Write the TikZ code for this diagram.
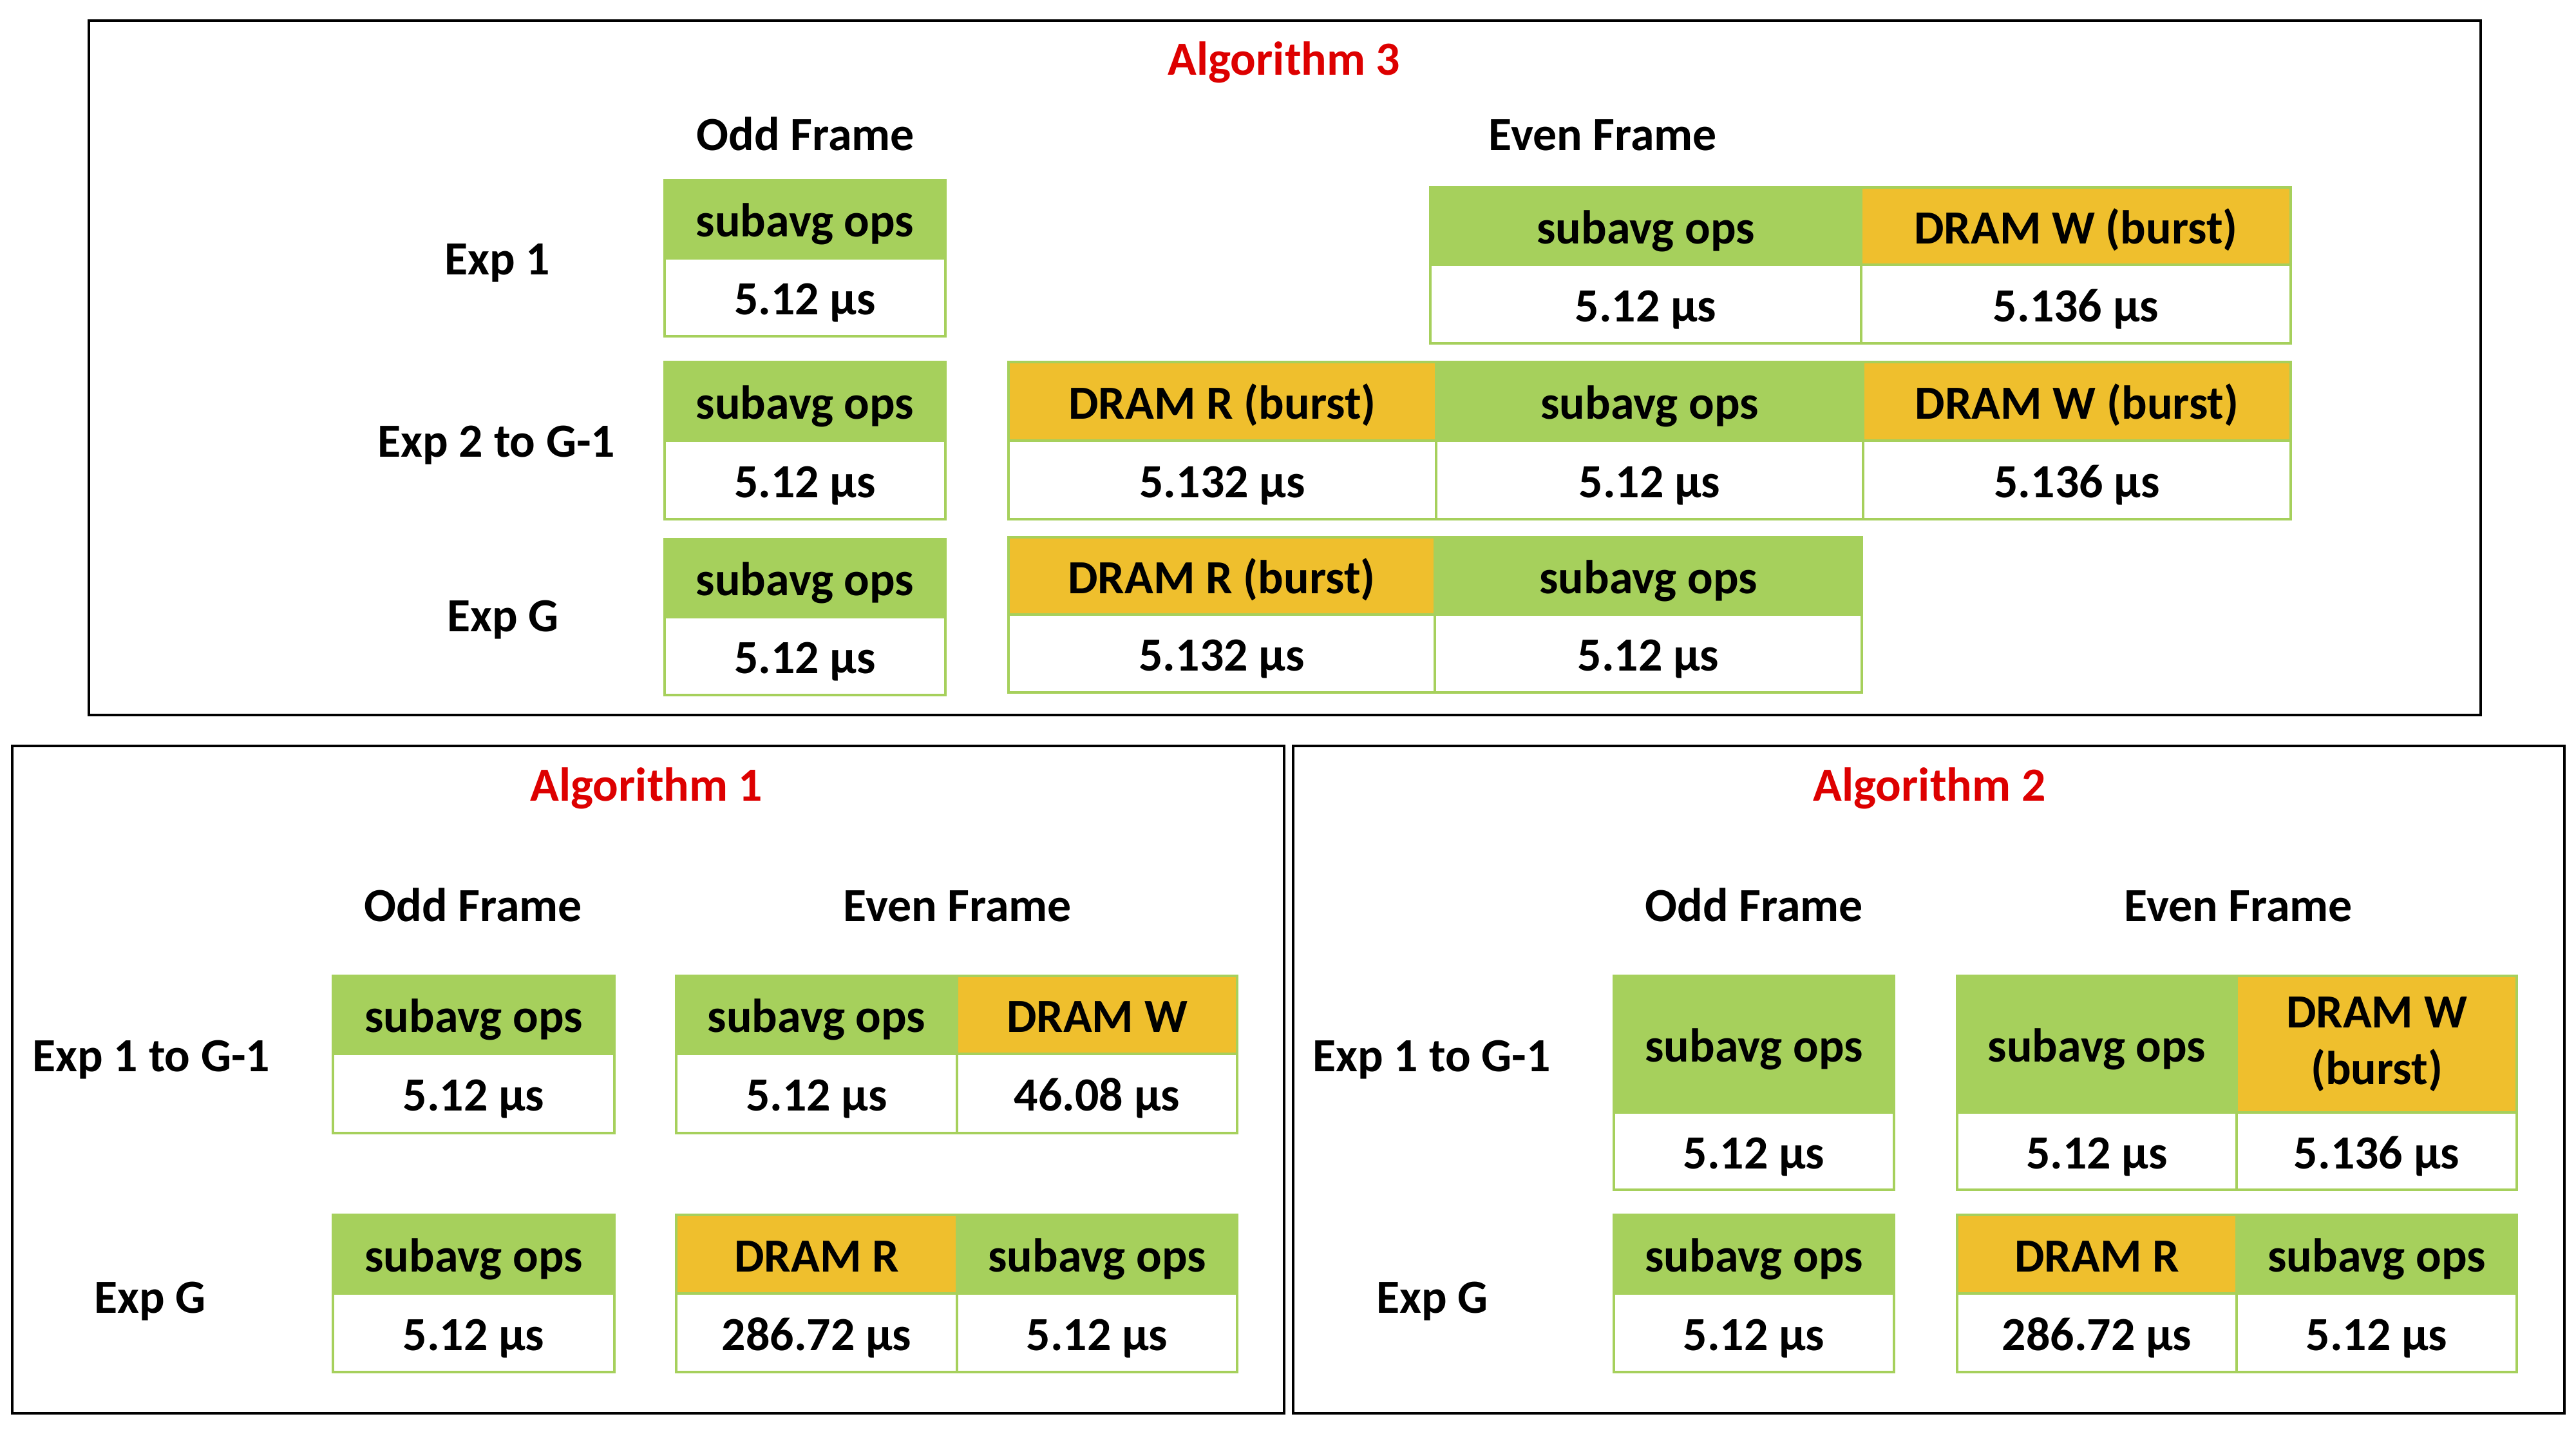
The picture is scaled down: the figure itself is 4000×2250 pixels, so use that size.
\documentclass[tikz,border=0pt]{standalone}
\usepackage{fontspec}
\setmainfont{Carlito}
\definecolor{cgreen}{HTML}{A6D05C}
\definecolor{cgold}{HTML}{EFBF2D}
\definecolor{cred}{HTML}{DD0000}
\begin{document}
\begin{tikzpicture}[x=0.01cm, y=-0.01cm,
  txt/.style={font=\fontsize{21}{25.2}\selectfont\bfseries, text=black},
  lbl/.style={txt, anchor=base, inner sep=0pt},
  ttl/.style={lbl, text=cred},
  frame/.style={draw=black, line width=0.9pt},
  cellbase/.style={txt, draw=cgreen, line width=1.1pt, inner sep=0pt},
  cell/.style={cellbase, text height=0.6cm, text depth=0.06cm},
  opsc/.style={cell, fill=cgreen},
  dramc/.style={cell, fill=cgold},
  valc/.style={cell, fill=white}]
\useasboundingbox (0,0) rectangle (4000,2250);

% ---------------- frames ----------------
\draw[frame] (138,32) rectangle (3852,1110);
\draw[frame] (19,1158) rectangle (1994,2194);
\draw[frame] (2008,1158) rectangle (3982,2194);

% ================= Algorithm 3 =================
\node[ttl] (t3) at (1994,116) {Algorithm 3};
\node[lbl] (a3odd) at (1251,233) {Odd Frame};
\node[lbl] (a3even) at (2489,233) {Even Frame};
\node[lbl] (a3r1) at (772,426) {Exp 1};
\node[lbl] (a3r2) at (771,709) {Exp 2 to G-1};
\node[lbl] (a3r3) at (781,980) {Exp G};

% odd column
\node[opsc, minimum width=4.36cm, minimum height=1.21cm] (a3o1h) at (1250,340.5) {subavg ops};
\node[valc, minimum width=4.36cm, minimum height=1.21cm] (a3o1v) at (1250,461.5) {5.12 µs};
\node[opsc, minimum width=4.36cm, minimum height=1.22cm] (a3o2h) at (1250,623) {subavg ops};
\node[valc, minimum width=4.36cm, minimum height=1.22cm] (a3o2v) at (1250,745) {5.12 µs};
\node[opsc, minimum width=4.36cm, minimum height=1.21cm] (a3o3h) at (1250,897.5) {subavg ops};
\node[valc, minimum width=4.36cm, minimum height=1.21cm] (a3o3v) at (1250,1018.5) {5.12 µs};

% even row 1
\node[opsc, minimum width=6.69cm, minimum height=1.20cm] (a3e1ah) at (2555.5,351) {subavg ops};
\node[valc, minimum width=6.69cm, minimum height=1.22cm] (a3e1av) at (2555.5,472) {5.12 µs};
\node[dramc, minimum width=6.67cm, minimum height=1.20cm] (a3e1bh) at (3223.5,351) {DRAM W (burst)};
\node[valc, minimum width=6.67cm, minimum height=1.22cm] (a3e1bv) at (3223.5,472) {5.136 µs};

% even row 2
\node[dramc, minimum width=6.64cm, minimum height=1.22cm] (a3e2ah) at (1898,623) {DRAM R (burst)};
\node[valc, minimum width=6.64cm, minimum height=1.22cm] (a3e2av) at (1898,745) {5.132 µs};
\node[opsc, minimum width=6.63cm, minimum height=1.22cm] (a3e2bh) at (2561.5,623) {subavg ops};
\node[valc, minimum width=6.63cm, minimum height=1.22cm] (a3e2bv) at (2561.5,745) {5.12 µs};
\node[dramc, minimum width=6.64cm, minimum height=1.22cm] (a3e2ch) at (3225,623) {DRAM W (burst)};
\node[valc, minimum width=6.64cm, minimum height=1.22cm] (a3e2cv) at (3225,745) {5.136 µs};

% even row 3
\node[dramc, minimum width=6.62cm, minimum height=1.20cm] (a3e3ah) at (1897,894) {DRAM R (burst)};
\node[valc, minimum width=6.62cm, minimum height=1.21cm] (a3e3av) at (1897,1014.5) {5.132 µs};
\node[opsc, minimum width=6.63cm, minimum height=1.20cm] (a3e3bh) at (2559.5,894) {subavg ops};
\node[valc, minimum width=6.63cm, minimum height=1.21cm] (a3e3bv) at (2559.5,1014.5) {5.12 µs};

% ================= Algorithm 1 =================
\node[ttl] (t1) at (1004,1243) {Algorithm 1};
\node[lbl] (a1odd) at (735,1430) {Odd Frame};
\node[lbl] (a1even) at (1487,1430) {Even Frame};
\node[lbl] (a1r1) at (235,1663) {Exp 1 to G-1};
\node[lbl] (a1r2) at (233,2038) {Exp G};

\node[opsc, minimum width=4.37cm, minimum height=1.21cm] (a1o1h) at (735.5,1575.5) {subavg ops};
\node[valc, minimum width=4.37cm, minimum height=1.23cm] (a1o1v) at (735.5,1697.5) {5.12 µs};
\node[opsc, minimum width=4.37cm, minimum height=1.22cm] (a1o2h) at (735.5,1947) {subavg ops};
\node[valc, minimum width=4.37cm, minimum height=1.22cm] (a1o2v) at (735.5,2069) {5.12 µs};

\node[opsc, minimum width=4.36cm, minimum height=1.21cm] (a1e1ah) at (1268,1575.5) {subavg ops};
\node[valc, minimum width=4.36cm, minimum height=1.23cm] (a1e1av) at (1268,1697.5) {5.12 µs};
\node[dramc, minimum width=4.35cm, minimum height=1.21cm] (a1e1bh) at (1703.5,1575.5) {DRAM W};
\node[valc, minimum width=4.35cm, minimum height=1.23cm] (a1e1bv) at (1703.5,1697.5) {46.08 µs};

\node[dramc, minimum width=4.36cm, minimum height=1.22cm] (a1e2ah) at (1268,1947) {DRAM R};
\node[valc, minimum width=4.36cm, minimum height=1.22cm] (a1e2av) at (1268,2069) {286.72 µs};
\node[opsc, minimum width=4.35cm, minimum height=1.22cm] (a1e2bh) at (1703.5,1947) {subavg ops};
\node[valc, minimum width=4.35cm, minimum height=1.22cm] (a1e2bv) at (1703.5,2069) {5.12 µs};

% ================= Algorithm 2 =================
\node[ttl] (t2) at (2996,1243) {Algorithm 2};
\node[lbl] (a2odd) at (2724,1430) {Odd Frame};
\node[lbl] (a2even) at (3476,1430) {Even Frame};
\node[lbl] (a2r1) at (2223,1663) {Exp 1 to G-1};
\node[lbl] (a2r2) at (2224,2038) {Exp G};

\node[opsc, minimum width=4.35cm, minimum height=2.12cm] (a2o1h) at (2723.5,1621) {subavg ops};
\node[valc, minimum width=4.35cm, minimum height=1.20cm] (a2o1v) at (2723.5,1787) {5.12 µs};
\node[opsc, minimum width=4.35cm, minimum height=1.22cm] (a2o2h) at (2723.5,1947) {subavg ops};
\node[valc, minimum width=4.35cm, minimum height=1.22cm] (a2o2v) at (2723.5,2069) {5.12 µs};

\node[opsc, minimum width=4.34cm, minimum height=2.12cm] (a2e1ah) at (3256,1621) {subavg ops};
\node[valc, minimum width=4.34cm, minimum height=1.20cm] (a2e1av) at (3256,1787) {5.12 µs};
\node[cellbase, fill=cgold, align=center, minimum width=4.35cm, minimum height=2.12cm] (a2e1bh) at (3690.5,1621) {DRAM W\\(burst)};
\node[valc, minimum width=4.35cm, minimum height=1.20cm] (a2e1bv) at (3690.5,1787) {5.136 µs};

\node[dramc, minimum width=4.34cm, minimum height=1.22cm] (a2e2ah) at (3256,1947) {DRAM R};
\node[valc, minimum width=4.34cm, minimum height=1.22cm] (a2e2av) at (3256,2069) {286.72 µs};
\node[opsc, minimum width=4.35cm, minimum height=1.22cm] (a2e2bh) at (3690.5,1947) {subavg ops};
\node[valc, minimum width=4.35cm, minimum height=1.22cm] (a2e2bv) at (3690.5,2069) {5.12 µs};
\end{tikzpicture}
\end{document}
